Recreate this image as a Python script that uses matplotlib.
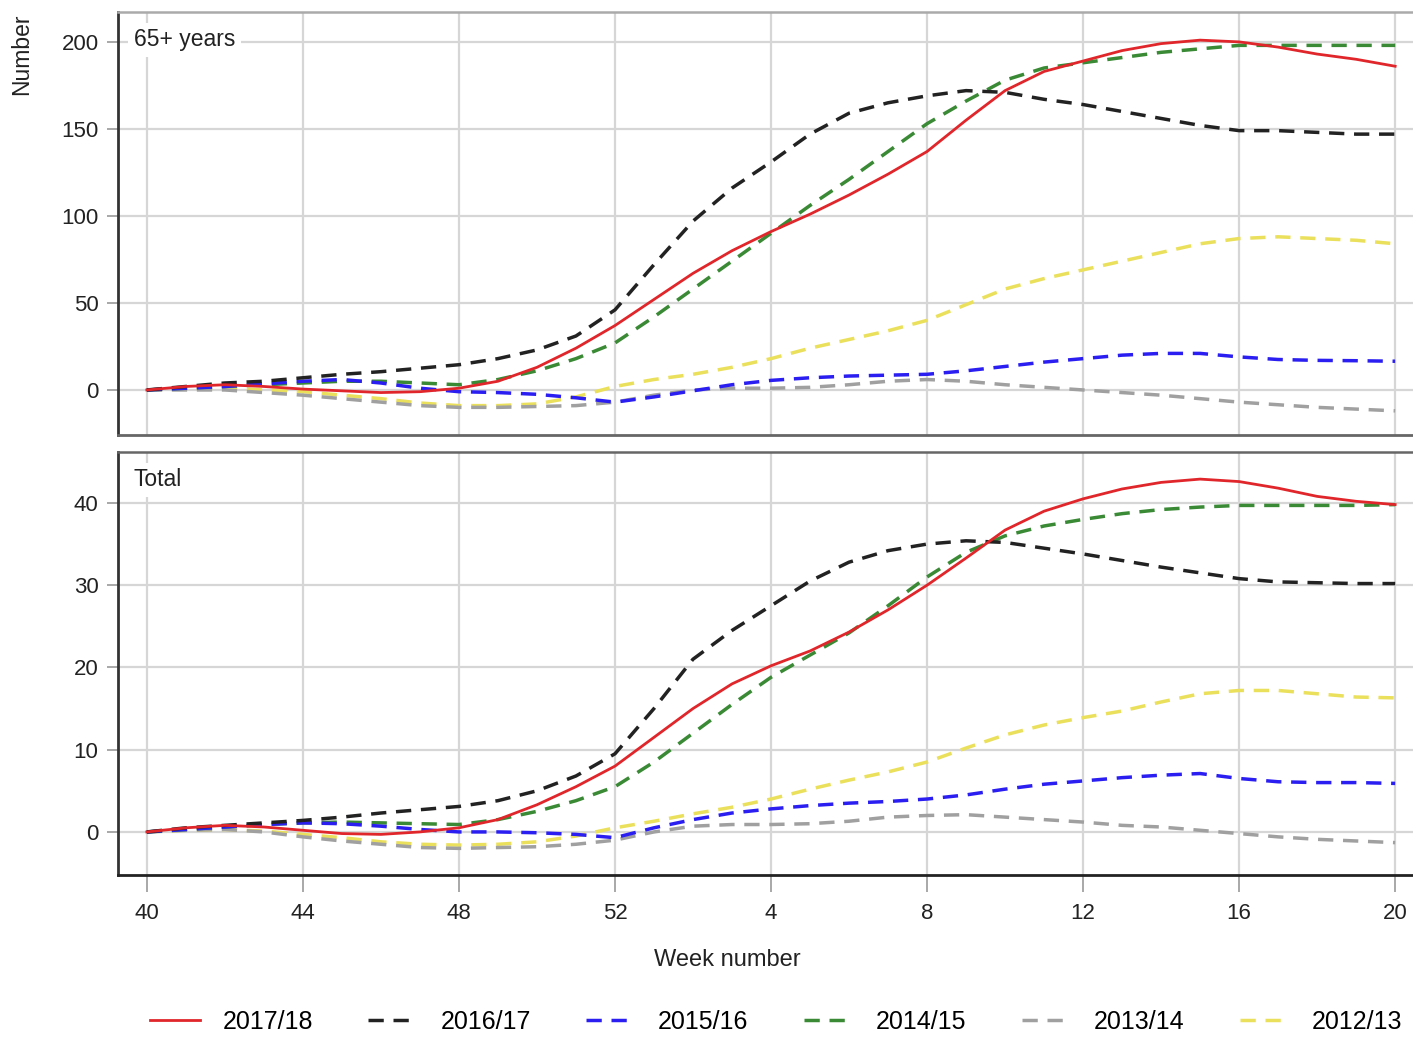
import numpy as np
import matplotlib
matplotlib.use("Agg")
import matplotlib.pyplot as plt

plt.rcParams['font.family'] = ['Liberation Sans', 'DejaVu Sans']

# weeks 40..52 then 1..20
weeks = list(range(40, 53)) + list(range(1, 21))
week_ticks = [40, 44, 48, 52, 4, 8, 12, 16, 20]

seasons = ['2017/18', '2016/17', '2015/16', '2014/15', '2013/14', '2012/13']
colors = ['#e0262b', '#222222', '#2a1ff0', '#3a8a35', '#a0a0a0', '#ebe05c']

# 65+ years
old_1718 = [0, 2, 3, 2, 0.5, -0.5, -1.5, -1, 1, 5, 13, 24, 37,
            52, 67, 80, 91, 101, 112, 124, 137, 155, 172, 183, 189, 195, 199, 201, 200, 197, 193, 190, 186]
old_1617 = [0, 2, 4, 5, 7, 9, 10.5, 12.5, 14.5, 18, 23, 31, 46,
            72, 97, 116, 131, 147, 159, 165, 169, 172, 171, 167, 164, 160, 156, 152, 149, 149, 148, 147, 147]
old_1516 = [0, 1, 2, 3.5, 5, 6, 4, 1, -1, -1.5, -2.5, -4.5, -7,
            -4, -0.5, 3, 5.5, 7, 8, 8.5, 9, 11, 13.5, 16, 18, 20, 21, 21, 19, 17.5, 17, 16.8, 16.5]
old_1415 = [0, 1, 2, 3, 4, 5, 5, 4, 3, 6, 11, 18, 27,
            42, 58, 74, 90, 106, 121, 137, 153, 166, 178, 185, 188, 191, 194, 196, 198, 198, 198, 198, 198]
old_1314 = [0, 0, 0, -1.5, -3, -5, -7, -9, -10, -10, -9.5, -9, -7,
            -3, 0, 1, 1, 1.5, 3, 5, 6, 5, 3, 1.5, 0, -1.5, -3, -5, -7, -8.5, -10, -11, -12]
old_1213 = [0, 0.5, 1, 0, -1, -3, -5, -7.5, -9, -9, -8, -4, 2,
            6, 9, 13, 18, 24, 29, 34, 40, 49, 58, 64, 69, 74, 79, 84, 87, 88, 87, 86, 84]

# total
tot_1718 = [0, 0.5, 0.8, 0.6, 0.2, -0.2, -0.3, 0, 0.5, 1.5, 3.3, 5.5, 8,
            11.5, 15, 18, 20.2, 22, 24.3, 27, 30, 33.3, 36.7, 39, 40.5, 41.7, 42.5, 42.9, 42.6, 41.8, 40.8, 40.2, 39.8]
tot_1617 = [0, 0.5, 0.8, 1.1, 1.4, 1.8, 2.3, 2.7, 3.1, 3.8, 5, 6.8, 9.5,
            15, 21, 24.5, 27.5, 30.5, 32.8, 34.2, 35, 35.4, 35.2, 34.5, 33.8, 33, 32.2, 31.5, 30.8, 30.4, 30.3, 30.2, 30.2]
tot_1516 = [0, 0.3, 0.6, 0.9, 1.1, 1, 0.7, 0.3, 0, 0, -0.1, -0.3, -0.7,
            0.5, 1.5, 2.3, 2.8, 3.2, 3.5, 3.7, 4, 4.5, 5.2, 5.8, 6.2, 6.6, 6.9, 7.1, 6.5, 6.1, 6, 6, 5.9]
tot_1415 = [0, 0.3, 0.6, 0.9, 1.1, 1.2, 1.1, 1, 0.9, 1.5, 2.5, 3.8, 5.5,
            8.5, 12, 15.5, 18.8, 21.5, 24.2, 27.5, 31, 34, 36, 37.2, 38, 38.7, 39.2, 39.5, 39.7, 39.7, 39.7, 39.7, 39.8]
tot_1314 = [0, 0.2, 0.3, 0, -0.6, -1.1, -1.5, -1.9, -2, -1.9, -1.8, -1.5, -1,
            0, 0.7, 0.9, 0.9, 1, 1.3, 1.8, 2, 2.1, 1.8, 1.5, 1.2, 0.8, 0.6, 0.2, -0.2, -0.6, -0.9, -1.1, -1.3]
tot_1213 = [0, 0.2, 0.3, 0.1, -0.3, -0.7, -1.2, -1.5, -1.6, -1.5, -1.2, -0.5, 0.5,
            1.3, 2.2, 3, 4, 5.2, 6.3, 7.3, 8.5, 10.2, 11.8, 13, 13.9, 14.7, 15.8, 16.8, 17.2, 17.2, 16.8, 16.4, 16.3]

old = [old_1718, old_1617, old_1516, old_1415, old_1314, old_1213]
tot = [tot_1718, tot_1617, tot_1516, tot_1415, tot_1314, tot_1213]

x = np.arange(len(weeks))
tick_pos = [weeks.index(w) if w >= 40 else 13 + w - 1 for w in week_ticks]

fig = plt.figure(figsize=(14.13, 10.39), dpi=100)
ax1 = fig.add_axes([0.0835, 0.5813, 0.9243, 0.4072])
ax2 = fig.add_axes([0.0835, 0.1579, 0.9243, 0.4071])


def draw(ax, series, ylim, yticks, label, top_col):
    for s, (vals, c, name) in enumerate(zip(series, colors, seasons)):
        if s == 0:
            ax.plot(x, vals, color=c, lw=2.0, label=name, zorder=10)
        else:
            ax.plot(x, vals, color=c, lw=2.5, dashes=(4.4, 2.8), label=name, zorder=9 - s)
    ax.set_xlim(-0.74, 32.74)
    ax.set_ylim(*ylim)
    ax.set_yticks(yticks)
    ax.set_xticks(tick_pos)
    ax.grid(True, color='#d6d6d6', lw=1.6)
    ax.set_axisbelow(True)
    ax.tick_params(axis='y', labelsize=16, colors='#999999', labelcolor='#222222',
                   length=8, width=1.2, pad=6)
    ax.tick_params(axis='x', labelsize=16, colors='#999999', labelcolor='#222222',
                   length=12, width=1.2, pad=8)
    for side in ['left', 'bottom']:
        ax.spines[side].set_color('#333333')
        ax.spines[side].set_linewidth(2.0)
    ax.spines['top'].set_color(top_col)
    ax.spines['top'].set_linewidth(1.8)
    ax.spines['right'].set_visible(False)
    ax.text(0.012, 0.934, label, transform=ax.transAxes, fontsize=16.5, color='#222222',
            ha='left', va='center', zorder=20,
            bbox=dict(facecolor='white', edgecolor='none', pad=4))


draw(ax1, old, (-25.9, 217.2), [0, 50, 100, 150, 200], '65+ years', '#aaaaaa')
draw(ax2, tot, (-5.23, 46.2), [0, 10, 20, 30, 40], 'Total', '#666666')
ax1.spines['bottom'].set_color('#666666')
ax1.tick_params(axis='x', length=0, labelbottom=False)
ax2.set_xticklabels([str(w) for w in week_ticks])
ax2.spines['bottom'].set_color('#222222')

fig.text(0.515, 0.076, 'Week number', ha='center', va='center', fontsize=17, color='#222222')
fig.text(0.0155, 0.9086, 'Number', rotation=90, ha='center', va='bottom', fontsize=16.5, color='#222222')

handles, labels = ax1.get_legend_handles_labels()
fig.legend(handles, labels, loc='center left', bbox_to_anchor=(0.106, 0.0164), ncol=6,
           frameon=False, fontsize=18, handlelength=2.0, handletextpad=0.9,
           columnspacing=2.2, borderaxespad=0, borderpad=0)

fig.savefig('out.png', dpi=100)
